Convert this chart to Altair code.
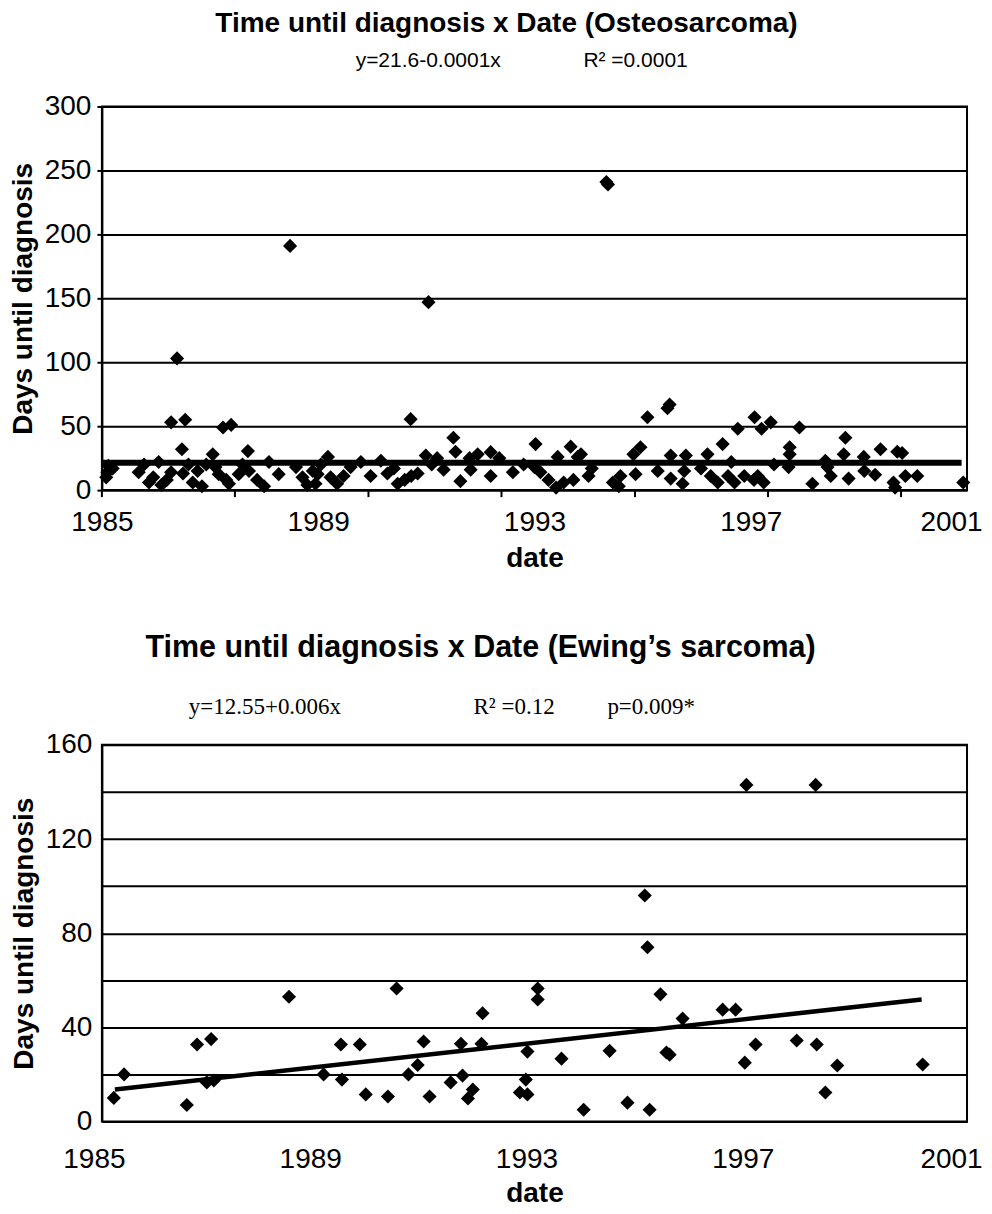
import altair as alt
import pandas as pd

# ---------------- data ----------------
osteo_year = [
    1986.39, 1988.48, 1991.04, 1994.33, 1994.36,
    1985.08, 1985.10, 1985.12, 1985.20,
    1985.68, 1985.78, 1985.87, 1985.95, 1986.05, 1986.10, 1986.20,
    1986.28, 1986.28, 1986.48, 1986.50, 1986.54, 1986.60, 1986.68, 1986.77,
    1986.85, 1986.93, 1987.05, 1987.10, 1987.16, 1987.24, 1987.30, 1987.35,
    1987.39, 1987.53, 1987.60, 1987.70, 1987.72, 1987.87, 1988.00, 1988.09,
    1988.27, 1988.59, 1988.71, 1988.80, 1988.90, 1988.95,
    1988.99, 1989.05, 1989.18, 1989.23, 1989.35, 1989.47, 1989.60, 1989.79,
    1989.97, 1990.16, 1990.28, 1990.40, 1990.47, 1990.60, 1990.71, 1990.72,
    1990.84, 1990.99, 1991.10, 1991.20, 1991.32, 1991.50, 1991.54, 1991.63,
    1991.80, 1991.82, 1991.95, 1992.19, 1992.19, 1992.35, 1992.60, 1992.80,
    1993.02, 1993.00,
    1993.11, 1993.26, 1993.40, 1993.43, 1993.54, 1993.67, 1993.72, 1993.80,
    1993.86, 1994.00, 1994.06, 1994.45, 1994.56, 1994.59, 1994.83, 1994.87,
    1994.96, 1995.09, 1995.28, 1995.46, 1995.50, 1995.52, 1995.52, 1995.74,
    1995.77, 1995.80, 1996.08, 1996.20, 1996.26, 1996.39, 1996.48, 1996.58,
    1996.64, 1996.70, 1996.76, 1996.88, 1997.07, 1997.06,
    1997.13, 1997.24, 1997.20, 1997.37, 1997.43, 1997.72, 1997.72, 1997.70,
    1997.90, 1998.14, 1998.38, 1998.42, 1998.48, 1998.72, 1998.75, 1998.81,
    1999.09, 1999.10, 1999.30, 1999.40, 1999.64, 1999.67, 1999.71, 1999.80,
    1999.86, 2000.08, 2000.93,
]
osteo_days = [
    103, 191, 147, 241, 239,
    10, 14, 19, 17,
    14, 20, 6, 10, 22, 4, 8,
    53, 14, 32, 13, 55, 20, 6, 15,
    3, 20, 28, 18, 12.5, 49, 8, 5,
    51, 12.5, 20, 30.5, 15, 8, 3, 22,
    12.5, 18, 10, 4, 15, 5,
    12.5, 20, 26, 10, 5, 11, 18, 22,
    11, 23, 13, 17, 5, 8, 55.5, 11,
    13, 27, 20, 25, 16, 41, 30, 7,
    25, 16, 28, 29.7, 11, 25, 14, 20,
    36, 18,
    14, 8, 2, 26, 6, 34, 8, 26,
    28, 11, 17, 6, 3, 11, 28, 12.5,
    33.5, 57, 15, 64, 67, 27, 9, 5,
    15, 27, 17, 28, 11, 6, 36, 11,
    22, 6, 48, 11, 57, 8,
    11, 6, 48, 53, 20, 33.5, 28, 18,
    49, 5, 23, 18, 11, 28, 41, 9,
    26, 15, 12, 32, 6, 2, 30, 29,
    11, 11, 6,
]

ewing_year = [
    1985.22, 1985.41, 1986.57, 1986.76, 1987.02, 1986.94, 1987.07, 1988.46,
    1989.10, 1989.42, 1989.44, 1989.77, 1989.88, 1990.29, 1990.45, 1990.67,
    1990.84, 1990.95, 1991.06, 1991.45, 1991.64, 1991.67, 1991.77, 1991.86,
    1992.02, 1992.04, 1992.73, 1992.87, 1992.84, 1992.87, 1993.06, 1993.06,
    1993.50, 1993.91, 1994.39, 1994.72, 1995.04, 1995.09, 1995.13, 1995.33,
    1995.44, 1995.50, 1995.74, 1996.48, 1996.72, 1996.89, 1996.92, 1997.09,
    1997.85, 1998.20, 1998.22, 1998.38, 1998.60, 2000.18,
]
ewing_days = [
    10, 20, 7, 32.7, 35, 16.6, 17.4, 53,
    20, 32.7, 17.8, 32.7, 11.5, 10.6, 56.5, 20,
    24, 34, 10.6, 16.6, 33, 19.5, 9.8, 13.6,
    33, 46, 12.3, 11.5, 17.8, 29.7, 56.5, 51.8,
    26.7, 5, 30, 8, 96, 74, 5, 54,
    29.3, 28.4, 43.7, 47.5, 47.5, 25, 143, 32.7,
    34.4, 143, 32.7, 12.3, 23.8, 24.2,
]

osteo_fit_year = [1985.0, 2000.9]
osteo_fit_days = [21.4, 21.4]
ewing_fit_year = [1985.24, 2000.16]
ewing_fit_days = [13.6, 51.8]

osteo_tick_years = [1985.0, 1987.46, 1989.93, 1992.39, 1994.86, 1997.32, 1999.78]
year_labels = [1985, 1989, 1993, 1997, 2001]
osteo_y_ticks = [0, 50, 100, 150, 200, 250, 300]
ewing_y_ticks = [0, 20, 40, 60, 80, 100, 120, 140, 160]

osteo_title = "Time until diagnosis x Date (Osteosarcoma)"
osteo_sub = ["y=21.6-0.0001x", "R\u00b2 =0.0001"]
ewing_title = "Time until diagnosis x Date (Ewing\u2019s sarcoma)"
ewing_sub = ["y=12.55+0.006x", "R\u00b2 =0.12", "p=0.009*"]

# ---------------- layout ----------------
W = 866
H1 = 384
H2 = 377
SANS = "Liberation Sans"
SERIF = "Liberation Serif"

df1 = pd.DataFrame({"year": osteo_year, "days": osteo_days})
df2 = pd.DataFrame({"year": ewing_year, "days": ewing_days})
fit1 = pd.DataFrame({"year": osteo_fit_year, "days": osteo_fit_days})
fit2 = pd.DataFrame({"year": ewing_fit_year, "days": ewing_fit_days})
tick1 = pd.DataFrame({"year": osteo_tick_years})

xscale = alt.Scale(domain=[1985, 2001], nice=False, zero=False)

x1 = alt.X("year:Q", scale=xscale,
           axis=alt.Axis(values=year_labels, format="d", title="date", grid=False,
                         ticks=False, labelPadding=18.5, titlePadding=7.5,
                         labelFlush=False,
                         labelOffset=alt.condition("datum.value == 2001",
                                                   alt.value(-16), alt.value(0))))
y1 = alt.Y("days:Q", scale=alt.Scale(domain=[0, 300], nice=False),
           axis=alt.Axis(values=osteo_y_ticks, title="Days until diagnosis",
                         grid=True, tickSize=5, labelPadding=6, titlePadding=6.5,
                         labelFlush=False))

x2 = alt.X("year:Q", scale=xscale,
           axis=alt.Axis(values=year_labels, format="d", title="date", grid=False,
                         ticks=False, labelPadding=24.5, titlePadding=5.5,
                         labelFlush=False,
                         labelOffset=alt.condition("datum.value == 2001",
                                                   alt.value(-16), alt.value(-8))))
y2 = alt.Y("days:Q", scale=alt.Scale(domain=[0, 160], nice=False),
           axis=alt.Axis(values=ewing_y_ticks, title="Days until diagnosis",
                         grid=True, ticks=False, labelPadding=10, titlePadding=6.5,
                         labelFlush=False,
                         labelExpr="datum.value % 40 == 0 ? datum.label : ''"))

pt_style = dict(shape="diamond", filled=True, color="black", size=200, opacity=1)


def label(text, x, y, font, size, weight="normal", align="left"):
    return alt.Chart(pd.DataFrame({"t": [text]})).mark_text(
        font=font, fontSize=size, fontWeight=weight, align=align,
        baseline="middle", color="black").encode(
        text="t:N", x=alt.value(x), y=alt.value(y))


pts1 = alt.Chart(df1).mark_point(**pt_style).encode(x=x1, y=y1)
line1 = alt.Chart(fit1).mark_line(color="black", strokeWidth=6).encode(x=x1, y=y1)
ticks1 = alt.Chart(tick1).mark_rule(color="black", strokeWidth=2).encode(
    x=x1, y=alt.value(H1), y2=alt.value(H1 + 7))
title1 = label(osteo_title, 405, -83, SANS, 28, "bold", "center")
sub1a = label(osteo_sub[0], 254, -46, SANS, 21)
sub1b = label(osteo_sub[1], 482, -46, SANS, 21)

top = alt.layer(pts1, line1, ticks1, title1, sub1a, sub1b).properties(width=W, height=H1)

pts2 = alt.Chart(df2).mark_point(**pt_style).encode(x=x2, y=y2)
line2 = alt.Chart(fit2).mark_line(color="black", strokeWidth=4.5).encode(x=x2, y=y2)
title2 = label(ewing_title, 379, -97, SANS, 30.5, "bold", "center")
sub2a = label(ewing_sub[0], 87, -38, SERIF, 23)
sub2b = label(ewing_sub[1], 372, -38, SERIF, 23)
sub2c = label(ewing_sub[2], 506, -38, SERIF, 23)

bottom = alt.layer(pts2, line2, title2, sub2a, sub2b, sub2c).properties(width=W, height=H2)

chart = alt.vconcat(top, bottom, spacing=59).properties(
    padding={"left": 0, "top": 0, "right": 0, "bottom": 0},
    background="white",
).configure_view(
    stroke="black", strokeWidth=2
).configure_axis(
    domainColor="black", domainWidth=2,
    gridColor="black", gridWidth=2, gridOpacity=1,
    tickColor="black", tickWidth=2,
    labelFont=SANS, labelFontSize=28, labelColor="black",
    titleFont=SANS, titleFontSize=28, titleFontWeight="bold", titleColor="black",
)

chart.save("out.html", embed_options={"renderer": "svg", "actions": False})
